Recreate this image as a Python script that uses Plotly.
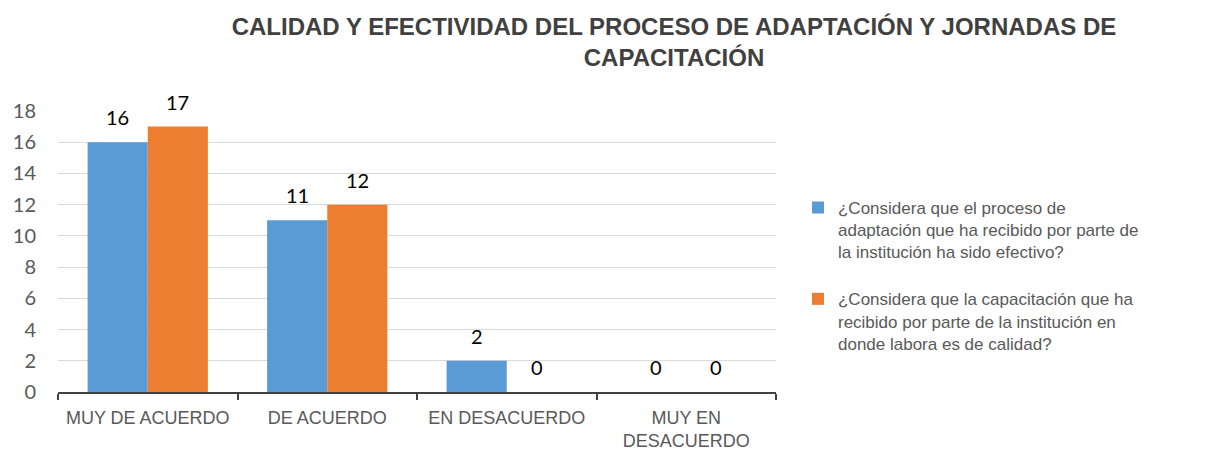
import plotly.graph_objects as go

categories = ["MUY DE ACUERDO", "DE ACUERDO", "EN DESACUERDO", "MUY EN<br>DESACUERDO"]
serie_adaptacion = [16, 11, 2, 0]
serie_capacitacion = [17, 12, 0, 0]
name_adaptacion = "¿Considera que el proceso de<br>adaptación que ha recibido por parte de<br>la institución ha sido efectivo?"
name_capacitacion = "¿Considera que la capacitación que ha<br>recibido por parte de la institución en<br>donde labora es de calidad?"
y_ticks = [0, 2, 4, 6, 8, 10, 12, 14, 16, 18]

LABEL_FONT = dict(size=20, color="#000000", family="Lato, Carlito, sans-serif")

fig = go.Figure()
fig.add_trace(go.Bar(x=categories, y=serie_adaptacion, name=name_adaptacion,
                     marker=dict(color="#5B9BD5", line=dict(width=0)), legendgroup="a"))
fig.add_trace(go.Bar(x=categories, y=serie_capacitacion, name=name_capacitacion,
                     marker=dict(color="#ED7D31", line=dict(width=0)), legendgroup="b"))

for cat, v in zip(categories, serie_adaptacion):
    fig.add_annotation(x=cat, y=v, text=str(v), showarrow=False, xshift=-30, yshift=11,
                       yanchor="bottom", font=LABEL_FONT)
for cat, v in zip(categories, serie_capacitacion):
    fig.add_annotation(x=cat, y=v, text=str(v), showarrow=False, xshift=30, yshift=11,
                       yanchor="bottom", font=LABEL_FONT)

fig.update_layout(
    width=1205, height=445,
    margin=dict(l=50, r=437, t=103, b=61),
    paper_bgcolor="white", plot_bgcolor="white",
    barmode="group", bargap=0.33, bargroupgap=0,
    title=dict(text="CALIDAD Y EFECTIVIDAD DEL PROCESO DE ADAPTACIÓN Y JORNADAS DE<br>CAPACITACIÓN",
               x=0.5527, xanchor="center", y=0.939, yanchor="top",
               font=dict(family="Liberation Sans, Arial, sans-serif", size=24, color="#404040", weight="bold")),
    legend=dict(x=1.0306, xanchor="left", y=0.719, yanchor="top", valign="top",
                font=dict(family="Liberation Sans, Arial, sans-serif", size=17, color="#595959"),
                tracegroupgap=22, itemsizing="constant"),
    xaxis=dict(showline=True, linecolor="#404040", linewidth=2, automargin=False, tickangle=0,
               ticks="outside", tickson="boundaries", ticklen=6, tickcolor="#404040", tickwidth=2,
               ticklabelstandoff=8,
               tickfont=dict(family="Liberation Sans Narrow, sans-serif", size=18, color="#595959"),
               showgrid=False),
    yaxis=dict(range=[0, 18], tickvals=y_ticks, showgrid=True, gridcolor="#D9D9D9", gridwidth=1,
               zeroline=False, showline=False, ticks="", automargin=False, ticklabelstandoff=21,
               tickfont=dict(family="Lato, Carlito, sans-serif", size=20, color="#595959")),
)

fig.write_html("out.html")
